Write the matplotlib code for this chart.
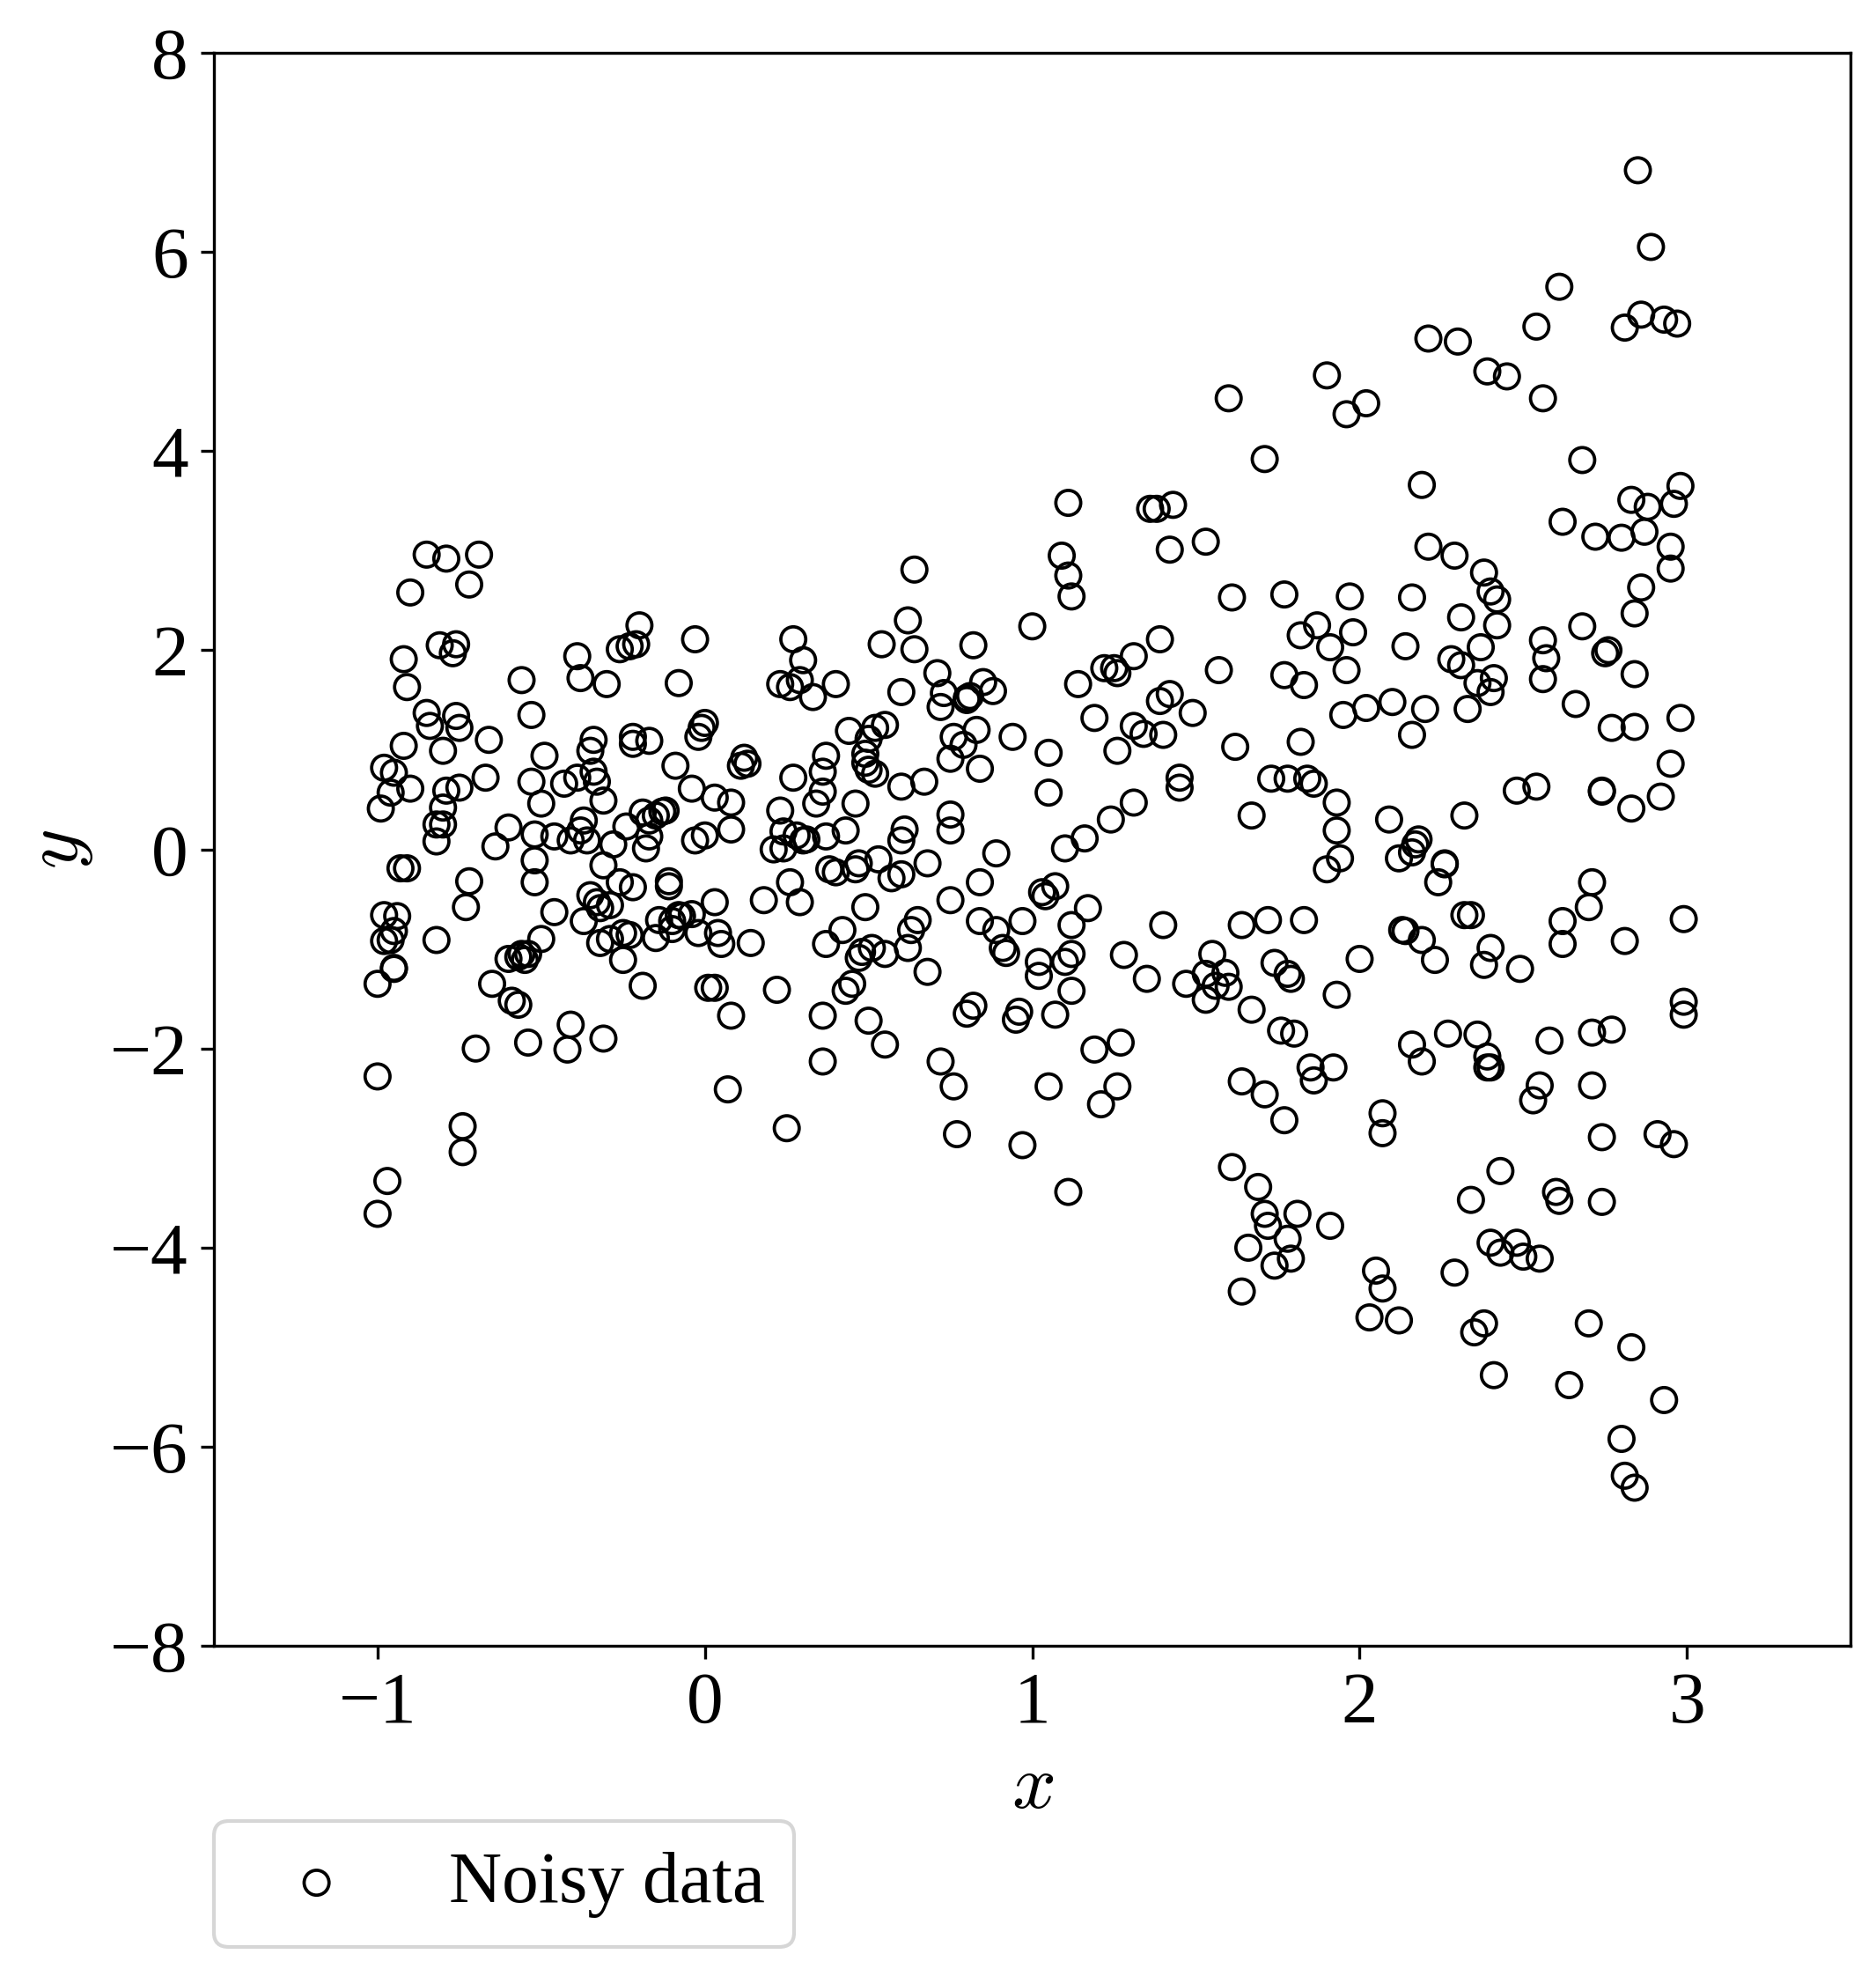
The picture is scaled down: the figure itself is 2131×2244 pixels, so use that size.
import matplotlib
matplotlib.use("Agg")
import matplotlib.pyplot as plt

plt.rcParams['font.family'] = 'serif'
plt.rcParams['font.serif'] = ['Liberation Serif', 'DejaVu Serif']
plt.rcParams['mathtext.fontset'] = 'cm'
plt.rcParams['font.size'] = 20

# noisy sample
x_vals = [
    -1.0, -1.0, -0.97, -1.0, -0.95, -0.95, -0.98, -0.96, -0.95, -0.98,
    -0.94, -0.99, -0.96, -0.98, -0.95, -0.93, -0.91, -0.90, -0.92, -0.91,
    -0.92, -0.90, -0.85, -0.79, -0.69, -0.72, -0.85, -0.84, -0.81, -0.77,
    -0.76, -0.80, -0.76, -0.75, -0.79, -0.75, -0.80, -0.82, -0.80, -0.82,
    -0.82, -0.72, -0.73, -0.70, -0.74, -0.74, -0.66, -0.67, -0.64, -0.65,
    -0.60, -0.60, -0.59, -0.57, -0.57, -0.56, -0.55, -0.54, -0.56, -0.54,
    -0.53, -0.53, -0.52, -0.52, -0.52, -0.49, -0.50, -0.50, -0.46, -0.46,
    -0.43, -0.41, -0.42, -0.41, -0.39, -0.38, -0.39, -0.38, -0.37, -0.37,
    -0.36, -0.35, -0.34, -0.34, -0.33, -0.35, -0.33, -0.32, -0.31, -0.32,
    -0.31, -0.31, -0.30, -0.29, -0.29, -0.28, -0.26, -0.26, -0.25, -0.25,
    -0.24, -0.23, -0.22, -0.22, -0.23, -0.22, -0.21, -0.20, -0.19, -0.19,
    -0.18, -0.17, -0.17, -0.17, -0.15, -0.15, -0.14, -0.13, -0.12, -0.11,
    -0.11, -0.10, -0.10, -0.09, -0.08, -0.08, -0.07, -0.03, -0.04, -0.03,
    -0.04, -0.02, -0.02, -0.01, 0.0, 0.0, 0.01, 0.03, 0.03, 0.03,
    0.04, 0.05, 0.07, 0.08, 0.08, 0.08, 0.11, 0.12, 0.13, 0.14,
    0.18, 0.21, 0.22, 0.23, 0.23, 0.24, 0.24, 0.25, 0.26, 0.26,
    0.27, 0.27, 0.28, 0.29, 0.30, 0.29, 0.30, 0.31, 0.33, 0.34,
    0.36, 0.36, 0.37, 0.36, 0.37, 0.37, 0.36, 0.38, 0.40, 0.40,
    0.42, 0.43, 0.44, 0.43, 0.45, 0.46, 0.46, 0.47, 0.47, 0.48,
    0.49, 0.50, 0.49, 0.49, 0.50, 0.50, 0.51, 0.52, 0.52, 0.53,
    0.54, 0.55, 0.55, 0.55, 0.57, 0.60, 0.60, 0.60, 0.61, 0.60,
    0.62, 0.62, 0.63, 0.64, 0.64, 0.65, 0.67, 0.68, 0.68, 0.71,
    0.72, 0.72, 0.73, 0.75, 0.75, 0.75, 0.76, 0.75, 0.76, 0.77,
    0.79, 0.80, 0.80, 0.81, 0.80, 0.82, 0.82, 0.83, 0.84, 0.84,
    0.84, 0.85, 0.88, 0.89, 0.89, 0.91, 0.92, 0.94, 0.95, 0.96,
    0.97, 0.97, 1.0, 1.02, 1.02, 1.03, 1.04, 1.05, 1.05, 1.05,
    1.07, 1.07, 1.09, 1.10, 1.10, 1.11, 1.11, 1.11, 1.12, 1.12,
    1.12, 1.12, 1.14, 1.16, 1.17, 1.19, 1.19, 1.21, 1.22, 1.24,
    1.25, 1.26, 1.26, 1.26, 1.27, 1.28, 1.31, 1.31, 1.31, 1.34,
    1.35, 1.36, 1.38, 1.39, 1.39, 1.40, 1.40, 1.42, 1.43, 1.42,
    1.45, 1.45, 1.47, 1.49, 1.53, 1.53, 1.53, 1.55, 1.56, 1.57,
    1.59, 1.60, 1.60, 1.61, 1.61, 1.62, 1.64, 1.64, 1.64, 1.66,
    1.67, 1.67, 1.69, 1.71, 1.71, 1.71, 1.72, 1.72, 1.73, 1.74,
    1.74, 1.76, 1.77, 1.77, 1.77, 1.78, 1.78, 1.78, 1.79, 1.79,
    1.80, 1.81, 1.82, 1.82, 1.83, 1.84, 1.83, 1.85, 1.86, 1.86,
    1.87, 1.90, 1.90, 1.91, 1.93, 1.93, 1.93, 1.92, 1.91, 1.94,
    1.95, 1.96, 1.96, 1.98, 1.97, 2.0, 2.02, 2.02, 2.03, 2.05,
    2.07, 2.07, 2.07, 2.09, 2.10, 2.12, 2.12, 2.13, 2.14, 2.14,
    2.16, 2.16, 2.16, 2.16, 2.17, 2.18, 2.19, 2.19, 2.19, 2.20,
    2.21, 2.21, 2.23, 2.24, 2.26, 2.26, 2.27, 2.29, 2.29, 2.28,
    2.30, 2.31, 2.31, 2.32, 2.33, 2.32, 2.34, 2.34, 2.35, 2.36,
    2.36, 2.37, 2.38, 2.38, 2.38, 2.39, 2.39, 2.40, 2.39, 2.40,
    2.40, 2.40, 2.41, 2.40, 2.41, 2.42, 2.42, 2.43, 2.43, 2.45,
    2.48, 2.48, 2.49, 2.50, 2.53, 2.54, 2.54, 2.55, 2.55, 2.56,
    2.56, 2.57, 2.56, 2.58, 2.60, 2.61, 2.61, 2.62, 2.62, 2.62,
    2.64, 2.66, 2.68, 2.68, 2.70, 2.70, 2.71, 2.71, 2.72, 2.71,
    2.74, 2.74, 2.74, 2.74, 2.75, 2.76, 2.77, 2.77, 2.80, 2.81,
    2.80, 2.81, 2.81, 2.83, 2.83, 2.83, 2.84, 2.84, 2.84, 2.85,
    2.84, 2.86, 2.86, 2.87, 2.88, 2.89, 2.91, 2.92, 2.93, 2.93,
    2.95, 2.95, 2.95, 2.96, 2.96, 2.97, 2.98, 2.98, 2.99, 2.99,
    2.99,
]
y_vals = [
    -3.66, -2.28, -3.33, -1.35, -1.20, -1.19, -0.92, -0.91, -0.82, -0.66,
    -0.67, 0.41, 0.57, 0.82, 0.77, -0.19, -0.19, 0.61, 1.04, 1.63,
    1.91, 2.58, 2.96, 2.92, 2.96, 2.66, 1.37, 1.24, 2.05, 1.97,
    2.06, 0.99, 1.34, 1.22, 0.59, 0.62, 0.42, 0.25, 0.25, 0.08,
    -0.91, -0.32, -0.58, -2.0, -2.78, -3.04, 1.10, 0.72, 0.03, -1.35,
    0.22, -1.10, -1.52, -1.56, -1.08, -1.05, -1.11, -1.05, 1.70, -1.94,
    1.35, 0.68, -0.11, 0.15, -0.33, 0.94, 0.46, -0.90, -0.63, 0.13,
    0.66, -1.76, -2.01, 0.09, 1.94, 1.72, 0.72, 0.19, 0.29, -0.72,
    0.09, 0.99, 1.10, 0.78, 0.68, -0.46, -0.53, -0.59, -1.90, -0.94,
    0.49, -0.16, 1.66, -0.56, -0.90, 0.05, 2.01, -0.33, -1.11, -0.84,
    0.23, 2.04, 1.06, 1.13, -0.86, -0.38, 2.06, 2.25, 0.37, -1.37,
    0.01, 0.13, 1.09, 0.29, -0.89, 0.34, -0.71, 0.38, 0.39, -0.32,
    -0.37, -0.72, -0.80, 0.84, 1.67, -0.66, -0.67, 2.11, 0.61, 0.09,
    -0.65, -0.84, 1.13, 1.22, 1.27, 0.14, -1.39, -1.39, 0.52, -0.53,
    -0.84, -0.95, -2.41, 0.20, 0.47, -1.67, 0.84, 0.92, 0.86, -0.94,
    -0.51, 0.0, -1.41, 0.39, 1.66, 0.18, 0.01, -2.80, 1.63, -0.33,
    2.11, 0.72, 0.14, 1.70, 1.90, -0.53, 0.09, 0.10, 1.53, 0.46,
    0.78, -2.13, 0.94, 0.58, -0.95, 0.13, -1.67, -0.20, -0.23, 1.66,
    -0.81, 0.19, 1.19, -1.42, -1.35, 0.46, -0.20, -1.09, -0.14, -1.03,
    0.96, 1.11, -0.58, 0.87, 0.80, -1.72, -0.99, 0.76, 1.22, -0.10,
    2.06, 1.25, -1.05, -1.96, -0.29, 1.58, 0.63, 0.09, 0.20, -0.25,
    -0.99, 2.30, -0.81, 2.01, 2.81, -0.71, 0.68, -0.14, -1.23, 1.77,
    1.43, -2.13, 1.57, 0.91, -0.51, 0.35, 1.13, 0.19, -2.38, -2.86,
    1.05, 1.52, 1.50, 1.54, -1.65, 2.05, -1.57, 1.20, 0.81, -0.72,
    -0.33, 1.68, 1.59, -0.04, -0.81, -0.99, -1.04, 1.13, -1.71, -1.63,
    -0.72, -2.97, 2.24, -1.13, -1.27, -0.43, -0.47, 0.97, -2.38, 0.57,
    -0.37, -1.66, 2.95, -1.13, 0.01, 3.48, 2.75, -3.44, 2.54, -1.05,
    -1.42, -0.76, 1.66, 0.11, -0.59, 1.32, -2.01, -2.56, 1.82, 0.30,
    1.82, 1.77, -2.38, 0.99, -1.94, -1.06, 1.24, 1.94, 0.47, 1.16,
    -1.30, 3.42, 3.42, 2.11, 1.49, 1.15, -0.76, 1.56, 3.46, 3.01,
    0.72, 0.62, -1.35, 1.37, 3.09, -1.25, -1.51, -1.05, -1.37, 1.80,
    -1.24, -1.38, 4.53, 2.53, -3.19, 1.03, -2.33, -0.76, -4.44, -4.0,
    0.34, -1.61, -3.39, -3.66, 3.92, -2.46, -3.78, -0.71, 0.71, -4.18,
    -1.14, -1.82, 1.75, 2.56, -2.72, -3.91, -1.25, 0.71, -1.30, -4.11,
    -1.85, -3.66, 2.15, 1.08, 1.65, 0.71, -0.71, -2.19, 0.66, -2.32,
    2.25, 4.76, -0.20, 2.03, 0.19, 0.47, -1.46, -2.19, -3.78, -0.09,
    1.35, 4.37, 1.80, 2.18, 2.54, -1.10, 4.48, 1.42, -4.70, -4.23,
    -4.41, -2.85, -2.65, 0.30, 1.48, -4.73, -0.09, -0.81, -0.82, 2.04,
    -0.03, 1.15, 2.53, -1.96, 0.05, 0.10, -0.91, 3.66, -2.13, 1.41,
    3.04, 5.13, -1.11, -0.33, -0.14, -0.15, -1.85, 2.95, -4.25, 1.91,
    5.10, 2.33, 1.85, 0.34, 1.41, -0.66, -0.66, -3.52, -4.85, -1.86,
    1.67, 2.03, 2.78, -4.76, -1.16, -2.08, -2.19, -2.19, 4.80, 1.58,
    -3.95, 2.59, 1.72, -0.99, -5.28, 2.25, 2.51, -4.05, -3.23, 4.75,
    0.59, -3.95, -1.20, -4.09, -2.52, 5.25, 0.63, -2.37, -4.11, 2.10,
    4.53, 1.92, 1.71, -1.92, -3.44, 5.65, -3.53, 3.29, -0.72, -0.95,
    -5.38, 1.46, 2.24, 3.91, -4.76, -0.58, -1.84, -2.37, 3.14, -0.33,
    0.59, -3.54, -2.89, 0.58, 1.97, 2.0, 1.22, -1.81, 3.13, -0.92,
    -5.92, 5.24, -6.29, -5.0, 3.51, 0.41, 1.23, 2.37, 1.76, 6.82,
    -6.41, 5.37, 2.63, 3.19, 3.44, 6.05, -2.86, 0.53, 5.32, -5.53,
    2.82, 3.04, 0.86, 3.47, -2.96, 5.28, 1.32, 3.65, -0.70, -1.53,
    -1.66,
]

x_ticks = [-1, 0, 1, 2, 3]
y_ticks = [-8, -6, -4, -2, 0, 2, 4, 6, 8]

fig = plt.figure(figsize=(2131 / 300, 2244 / 300), dpi=300)
ax = fig.add_axes([0.114, 0.167, 0.8725, 0.8063])

ax.scatter(x_vals, y_vals, s=46, facecolors='none', edgecolors='k',
           linewidths=0.9, label='Noisy data')

ax.set_xlim(-1.5, 3.5)
ax.set_ylim(-8, 8)
ax.set_xticks(x_ticks)
ax.set_yticks(y_ticks)
ax.tick_params(labelsize=20)
ax.set_xlabel('$x$', fontsize=21)
ax.set_ylabel('$y$', fontsize=21)

ax.legend(loc='upper left', bbox_to_anchor=(0, -0.11), borderaxespad=0,
          fontsize=20)

fig.savefig('out.png', dpi=300)
